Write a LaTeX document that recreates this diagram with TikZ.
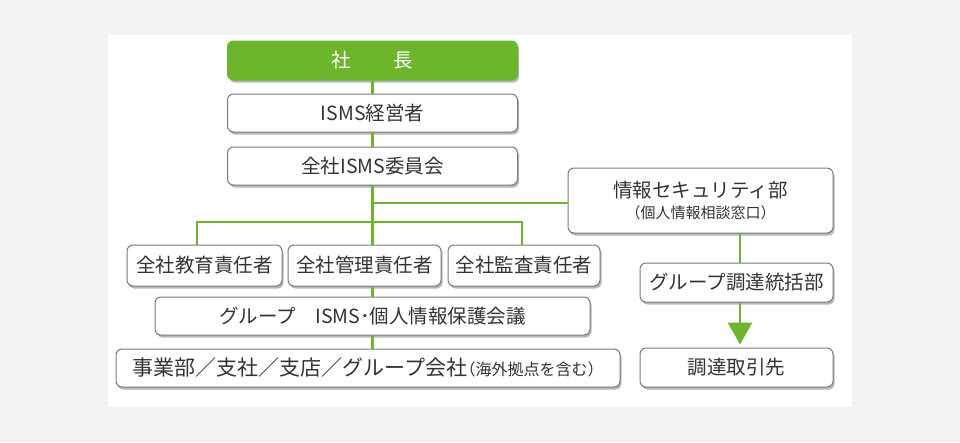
\documentclass[tikz,border=0pt]{standalone}
\usepackage{fontspec}
\setmainfont{Noto Sans CJK JP}
\usetikzlibrary{shadows,arrows.meta}
\definecolor{grn}{HTML}{6CB52D}
\definecolor{bord}{HTML}{7A7A7A}
\definecolor{txt}{HTML}{333333}
\definecolor{bgc}{HTML}{F2F2F2}
\begin{document}
\begin{tikzpicture}[x=1pt,y=-1pt,
  box/.style={draw=bord, line width=1pt, rounded corners=6pt, fill=white, text=txt,
    inner sep=0pt, align=center,
    drop shadow={shadow xshift=1.5pt, shadow yshift=-2.5pt, opacity=0.4, fill=black!70},
    font=\fontsize{19.5}{22}\selectfont},
  topbox/.style={box, draw=grn, fill=grn, text=white},
  link/.style={draw=grn, line width=2.6pt},
]
% background and panel
\fill[bgc] (0,0) rectangle (960,442);
\fill[white] (108,35) rectangle (852,407);
\useasboundingbox (0,0) rectangle (960,442);

% nodes
\node[topbox, minimum width=290pt, minimum height=39pt] (shacho) at (372.5,60.5) {社\hspace{2.2em}長};
\node[box, minimum width=290pt, minimum height=38pt] (keiei) at (372.5,113) {ISMS経営者};
\node[box, minimum width=290pt, minimum height=38pt] (iinkai) at (372.5,166) {全社ISMS委員会};
\node[box, minimum width=265pt, minimum height=65pt] (joho) at (700.5,200.5)
  {情報セキュリティ部\\[-1pt]{\fontsize{15}{17}\selectfont（個人情報相談窓口）}};
\node[box, minimum width=155pt, minimum height=41pt] (kyoiku) at (204.5,265.5) {全社教育責任者};
\node[box, minimum width=153pt, minimum height=41pt] (kanri) at (364.5,265.5) {全社管理責任者};
\node[box, minimum width=152pt, minimum height=41pt] (kansa) at (524,265.5) {全社監査責任者};
\node[box, minimum width=435pt, minimum height=38pt] (kaigi) at (372.5,316) {グループ\hspace{1em}ISMS･個人情報保護会議};
\node[box, minimum width=504pt, minimum height=38pt] (jigyo) at (368,368)
  {{\fontsize{21}{24}\selectfont 事業部／支社／支店／グループ会社\kern-0.35em}{\fontsize{16}{18}\selectfont（海外拠点を含む）}};
\node[box, minimum width=193pt, minimum height=39pt] (chotatsu) at (736.5,282.5) {グループ調達統括部};
\node[box, minimum width=193pt, minimum height=39pt] (torihiki) at (736.5,367.5) {調達取引先};

% helper coordinates
\coordinate (m1) at (372.5,203);
\coordinate (m2) at (372.5,222);
\coordinate (bl) at (197,222);
\coordinate (br) at (522,222);
\coordinate (jx) at (740,0);

% connectors
\draw[link] (shacho.south) -- (keiei.north);
\draw[link] (keiei.south) -- (iinkai.north);
\draw[link] (iinkai.south) -- (iinkai.south |- kanri.north);
\draw[link] (m1) -- (m1 -| joho.west);
\draw[link] (kyoiku.north -| bl) -- (bl) -- (br) -- (kansa.north -| br);
\draw[link] (kaigi.north -| m1) -- (kanri.south -| m1);
\draw[link] (kaigi.south -| m1) -- (jigyo.north -| m1);
\draw[link] (joho.south -| jx) -- (chotatsu.north -| jx);
\draw[link, shorten >=3pt, -{Triangle[width=24pt,length=22pt]}] (chotatsu.south -| jx) -- (torihiki.north -| jx);
\end{tikzpicture}
\end{document}
